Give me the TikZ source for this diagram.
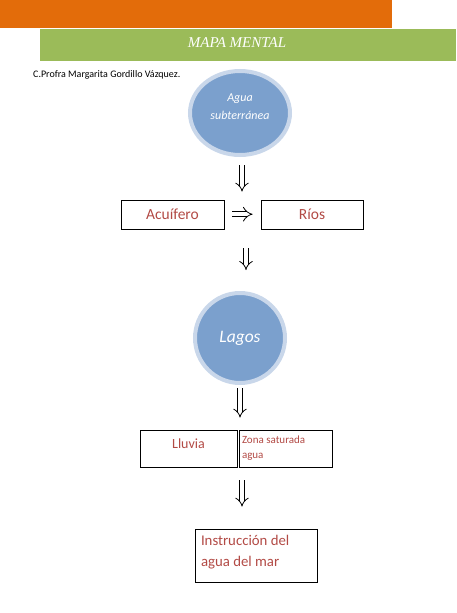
\documentclass[tikz,border=0pt]{standalone}
\usepackage{fontspec}
\setmainfont{Carlito}
\newfontfamily\titulofont{Liberation Serif}
\usetikzlibrary{shapes.geometric,arrows.meta}

\definecolor{naranja}{HTML}{E36C0A}
\definecolor{verde}{HTML}{9BBB59}
\definecolor{azul}{HTML}{7BA0CD}
\definecolor{anillo}{HTML}{C9D7EA}
\definecolor{rojo}{HTML}{B24A45}

\tikzset{
  caja/.style={draw=black, line width=0.7pt, rectangle, inner sep=3pt, text=rojo},
  burbuja/.style={fill=azul, draw=anillo, line width=4pt, text=white, align=center},
  flecha/.style={draw=black, line width=0.8pt, double, double distance=4pt, -{Implies[length=7pt, width=15pt]}}
}

\begin{document}
\begin{tikzpicture}[x=1pt,y=-1pt]
\useasboundingbox (0,0) rectangle (456,613);
 % bandas del titulo
\fill[naranja] (0,0) rectangle (392,28);
\fill[verde] (40,29) rectangle (456,61);
\node[text=white, font=\titulofont\itshape\fontsize{15}{17}\selectfont] (titulo) at (237,43) {MAPA MENTAL};
\node[anchor=west, inner sep=0pt, font=\fontsize{10}{12}\selectfont] (autora) at (33,75) {C.Profra Margarita Gordillo Vázquez.};

 % nodos
\node[burbuja, ellipse, minimum width=100pt, minimum height=84pt, font=\itshape\fontsize{12}{18}\selectfont] (agua) at (240,113) {Agua\\subterránea\\[-6pt]};
\node[caja, minimum width=103pt, minimum height=29pt, font=\fontsize{15.5}{17}\selectfont] (acuifero) at (172.5,214.5) {Acuífero};
\node[caja, minimum width=102pt, minimum height=29pt, font=\fontsize{15.5}{17}\selectfont] (rios) at (312,214.5) {Ríos};
\node[burbuja, circle, minimum size=90pt, font=\itshape\fontsize{17.5}{20}\selectfont] (lagos) at (240,338) {Lagos};
\node[caja, minimum width=97pt, minimum height=37pt, font=\fontsize{14}{16}\selectfont] (lluvia) at (188.5,448.5) {\parbox[c][31pt][t]{90pt}{\vspace*{6pt}\centering Lluvia}};
\node[caja, minimum width=93pt, minimum height=37pt, font=\fontsize{11}{15}\selectfont] (zona) at (285.5,448.5) {\parbox[c][31pt][t]{87pt}{\vspace*{3pt}Zona saturada\\agua}};
\node[caja, minimum width=122pt, minimum height=53pt, font=\fontsize{14.8}{21}\selectfont] (instruccion) at (256,555.5) {\parbox[c][47pt][t]{116pt}{\vspace*{3pt}\hspace*{3pt}Instrucción del\\\hspace*{3pt}agua del mar}};

 % flechas
\draw[flecha] ([shift={(2pt,-8pt)}]agua.south) -- ([shift={(2pt,8pt)}]agua.south |- acuifero.north);
\draw[flecha, double distance=4.4pt] ([shift={(8pt,0.3pt)}]acuifero.east) -- ([shift={(-8pt,0.3pt)}]rios.west);
\draw[flecha] ([shift={(6pt,-19pt)}]lagos.north |- acuifero.south) -- ([shift={(6pt,21pt)}]lagos.north);
\draw[flecha] ([yshift=-3pt]lagos.south) -- ([yshift=12pt]lagos.south |- lluvia.north);
\draw[flecha] ([shift={(2pt,-13pt)}]lagos.south |- lluvia.south) -- ([shift={(2pt,22pt)}]lagos.south |- instruccion.north);
\end{tikzpicture}
\end{document}
